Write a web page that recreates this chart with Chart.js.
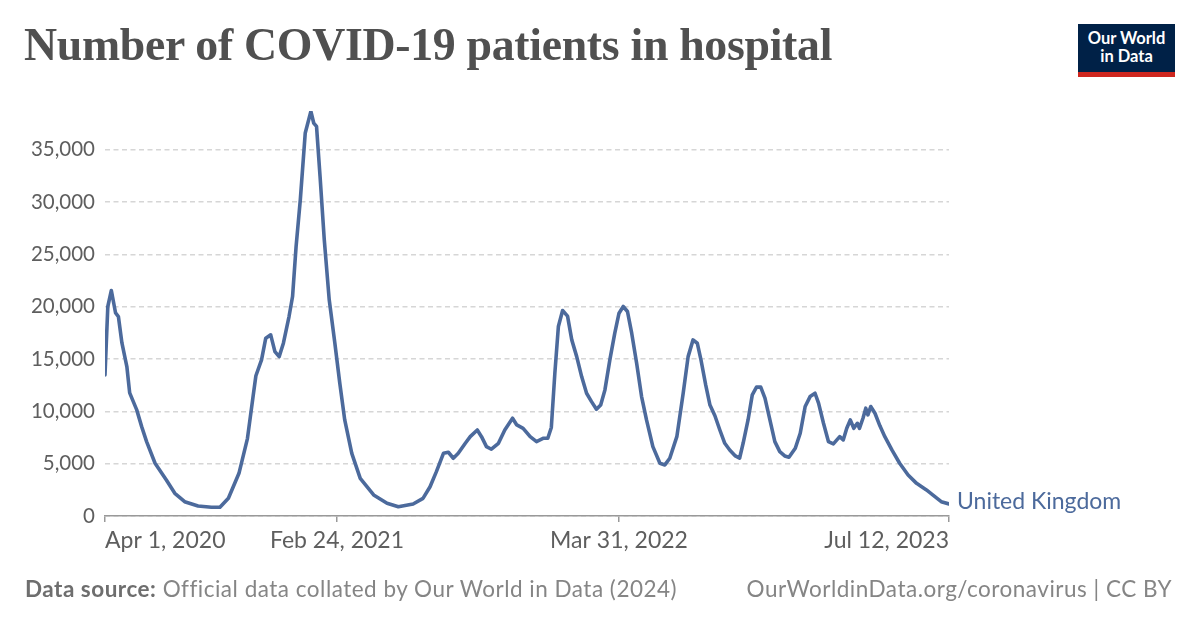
<!DOCTYPE html>
<html>
<head>
<meta charset="utf-8">
<script src="https://cdn.jsdelivr.net/npm/chart.js@4.4.1/dist/chart.umd.min.js"></script>
<style>
  html, body { margin: 0; padding: 0; background: #fff; }
  #wrap { position: relative; width: 1200px; height: 628px; overflow: hidden; }
  #title { position: absolute; left: 24px; top: 18px; font-family: "Liberation Serif", serif; font-weight: bold;
           font-size: 44px; color: #505050; white-space: nowrap; letter-spacing: -0.3px; }
  #logo { position: absolute; left: 1078px; top: 24px; width: 97px; background: #002147;
          border-bottom: 5px solid #ce261e; color: #fff; font-family: Lato, sans-serif; font-weight: bold;
          font-size: 16.5px; line-height: 18px; text-align: center; padding-top: 5px; height: 43px; }
  .foot { position: absolute; top: 575px; font-family: Lato, sans-serif; font-size: 22.5px; color: #858585;
          white-space: nowrap; letter-spacing: 0.5px; }
  #src { left: 25px; }
  #src b { color: #6e6e6e; }
  #lic { right: 28px; }
  canvas { position: absolute; left: 0; top: 0; }
</style>
</head>
<body>
<div id="wrap">
  <canvas id="hospChart" width="1200" height="628"></canvas>
  <div id="title">Number of COVID-19 patients in hospital</div>
  <div id="logo">Our World<br>in Data</div>
  <div class="foot" id="src"><b>Data source:</b> Official data collated by Our World in Data (2024)</div>
  <div class="foot" id="lic">OurWorldinData.org/coronavirus | CC BY</div>
</div>
<script>
// jours depuis le 1er avril 2020, et patients à l'hôpital (Royaume-Uni)
var DAYS = [0, 4, 9, 15, 19, 24, 31, 35, 45, 52, 59, 71, 87, 99, 113, 132, 151, 163, 175, 190,
    202, 210, 214, 222, 228, 235, 241, 247, 253, 261, 266, 271, 277, 284, 292, 296, 300, 305, 311, 318,
    326, 333, 340, 350, 362, 381, 400, 416, 437, 451, 461, 470, 480, 487, 494, 501, 511, 518, 528, 534,
    541, 548, 558, 567, 578, 584, 593, 603, 612, 622, 628, 633, 638, 643, 649, 656, 662, 669, 676, 683,
    690, 697, 703, 709, 716, 723, 729, 735, 741, 747, 754, 761, 768, 777, 787, 794, 801, 811, 820, 827,
    834, 840, 845, 852, 858, 865, 872, 879, 886, 894, 900, 905, 912, 918, 924, 930, 936, 943, 950, 957,
    964, 970, 979, 986, 993, 1000, 1007, 1012, 1019, 1026, 1033, 1042, 1047, 1052, 1057, 1062, 1067, 1070, 1075, 1079,
    1082, 1086, 1092, 1099, 1106, 1116, 1127, 1139, 1151, 1165, 1177, 1186, 1197];
var PATIENTS = [13480, 20020, 21550, 19400, 19060, 16540, 14280, 11760, 10140, 8540, 7110, 5040, 3440, 2170, 1370, 960, 830, 830, 1690, 4080,
    7400, 11410, 13400, 14920, 16990, 17310, 15710, 15230, 16510, 19060, 20970, 25750, 30220, 36600, 38670, 37550, 37230, 32450, 26390, 20660,
    16510, 12690, 9180, 5990, 3600, 2010, 1210, 880, 1150, 1690, 2800, 4240, 5990, 6090, 5520, 5990, 6950, 7580, 8220, 7580,
    6630, 6380, 6950, 8220, 9340, 8700, 8380, 7580, 7110, 7430, 7430, 8460, 13640, 18100, 19630, 19100, 16830, 15230, 13320, 11730,
    10930, 10200, 10610, 12050, 14920, 17470, 19380, 20020, 19540, 17470, 14600, 11410, 9180, 6630, 5040, 4880, 5520, 7580, 11730, 15230,
    16830, 16510, 15000, 12500, 10600, 9580, 8220, 6950, 6310, 5740, 5520, 6950, 9180, 11570, 12310, 12310, 11260, 9180, 7110, 6150,
    5740, 5610, 6470, 7910, 10460, 11410, 11730, 10780, 8860, 7110, 6890, 7580, 7270, 8380, 9180, 8380, 8860, 8380, 9340, 10300,
    9660, 10460, 9820, 8620, 7580, 6310, 5040, 3920, 3120, 2490, 1850, 1370, 1150];
var X_TICKS = [0, 329, 729, 1197];
var X_LABELS = ["Apr 1, 2020", "Feb 24, 2021", "Mar 31, 2022", "Jul 12, 2023"];
var Y_TICKS = [0, 5000, 10000, 15000, 20000, 25000, 30000, 35000];
var SERIES = "United Kingdom";
var LINE_COLOR = "#4c6a9c";

// ajuste le titre à la largeur voulue
var t = document.getElementById("title");
t.style.fontSize = (44 * 808 / t.offsetWidth) + "px";

var points = DAYS.map(function (d, i) { return { x: d, y: PATIENTS[i] }; });

var endLabel = {
    id: "endLabel",
    afterDatasetsDraw: function (chart) {
        var meta = chart.getDatasetMeta(0);
        var last = meta.data[meta.data.length - 1];
        var ctx = chart.ctx;
        ctx.save();
        ctx.font = "23px Lato";
        ctx.fillStyle = LINE_COLOR;
        ctx.textBaseline = "middle";
        ctx.fillText(SERIES, last.x + 8, last.y - 2);
        ctx.restore();
    }
};

var ctx = document.getElementById("hospChart").getContext("2d");
var hospChart = new Chart(ctx, {
    type: "line",
    data: {
        datasets: [{
            label: SERIES,
            data: points,
            borderColor: LINE_COLOR,
            borderWidth: 3.6,
            borderJoinStyle: "round",
            borderCapStyle: "round",
            pointRadius: 0,
            tension: 0,
            fill: false
        }]
    },
    options: {
        responsive: false,
        animation: false,
        layout: { padding: { top: 111, right: 251, left: 0, bottom: 0 } },
        plugins: { legend: { display: false }, tooltip: { enabled: false } },
        scales: {
            x: {
                type: "linear",
                min: 0,
                max: 1197,
                afterBuildTicks: function (axis) {
                    axis.ticks = X_TICKS.map(function (v) { return { value: v }; });
                },
                afterFit: function (axis) { axis.height = 112; },
                grid: { drawOnChartArea: false, drawTicks: true, tickLength: 6, color: "#999", lineWidth: 1.5 },
                border: { display: true, color: "#999", width: 1.5 },
                ticks: {
                    align: "inner",
                    maxRotation: 0,
                    padding: 5,
                    color: "#5e5e5e",
                    font: { family: "Lato", size: 23 },
                    callback: function (v) { return X_LABELS[X_TICKS.indexOf(v)]; }
                }
            },
            y: {
                min: 0,
                max: 38700,
                afterBuildTicks: function (axis) {
                    axis.ticks = Y_TICKS.map(function (v) { return { value: v }; });
                },
                afterFit: function (axis) { axis.width = 105; },
                grid: { drawTicks: false, color: "#d6d6d6", lineWidth: 1.5 },
                border: { display: false, dash: [5, 3.5] },
                ticks: {
                    padding: 10,
                    color: "#5e5e5e",
                    font: { family: "Lato", size: 20.5 },
                    callback: function (v) { return v.toLocaleString("en-US"); }
                }
            }
        }
    },
    plugins: [endLabel]
});
</script>
</body>
</html>
